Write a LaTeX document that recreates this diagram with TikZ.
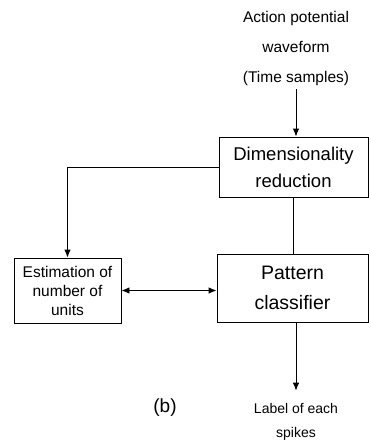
\documentclass[tikz,border=0pt]{standalone}
\usepackage{fontspec}
\setmainfont{Liberation Sans}
\usetikzlibrary{arrows.meta, positioning}

\tikzset{
    block/.style={draw, line width=0.9pt, align=center, inner sep=0pt},
    lbl/.style={align=center, font=\fontsize{15.5}{30}\selectfont}
}

\begin{document}
\begin{tikzpicture}[x=1pt, y=-1pt, >={Latex[length=8pt,width=6.5pt]}, line width=0.9pt]
        \useasboundingbox (0,0) rectangle (370,445);
        \node[lbl] (wave) at (296,48) {Action potential\\waveform\\(Time samples)};
        \node[block, minimum width=149pt, minimum height=60pt, font=\fontsize{18.5}{27}\selectfont] (dim) at (293.5,167) {Dimensionality\\reduction};
        \node[block, minimum width=151pt, minimum height=68pt, font=\fontsize{19.5}{30}\selectfont] (pat) at (292.5,288) {Pattern\\classifier};
        \node[block, minimum width=107pt, minimum height=65pt, font=\fontsize{15.5}{19}\selectfont] (est) at (67.5,290.5) {Estimation of\\number of\\units};
        \node[lbl, font=\fontsize{14}{24}\selectfont] (spk) at (296,422) {Label of each\\spikes};
        \node[font=\fontsize{19}{20}\selectfont] (cap) at (165,408) {(b)};
        
        \draw[->] (wave.south) -- (wave.south |- dim.north);
        \draw[->] (dim.west) -| (est.north);
        \draw (dim.south) -- (dim.south |- pat.north);
        \draw[<->] (est.east) -- (est.east -| pat.west);
        \draw[->, shorten >=9pt] (pat.south -| spk.north) -- (spk.north);
        
    \end{tikzpicture}
\end{document}
